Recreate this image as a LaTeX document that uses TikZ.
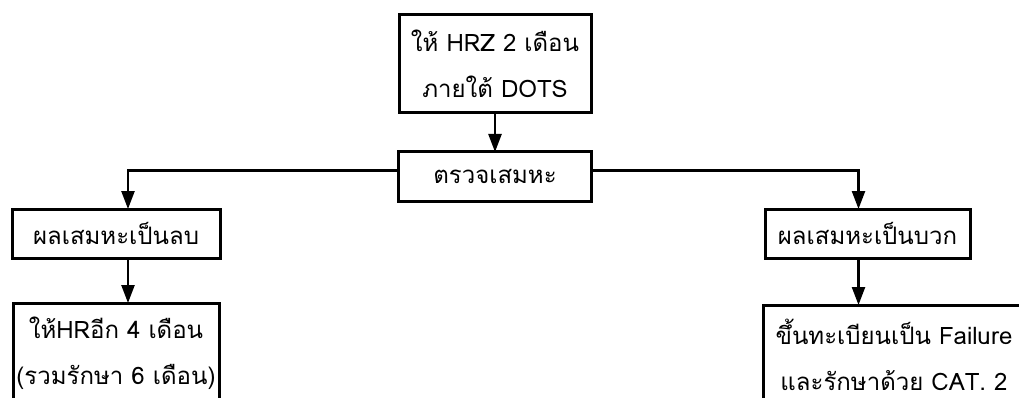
\documentclass[tikz,border=0pt]{standalone}
\usepackage{fontspec}
\setmainfont[Script=Thai]{Loma}
\usetikzlibrary{positioning, arrows.meta}
\tikzset{
  process/.style={rectangle, draw=black, line width=3pt, minimum height=49pt, inner sep=0pt, outer sep=0pt, align=center, font=\fontsize{24}{46}\selectfont},
  arrow/.style={line width=2.4pt, -{Triangle[length=18pt, width=13pt]}}
}
\begin{document}
\begin{tikzpicture}[x=1pt, y=-1pt]
        \useasboundingbox (0,0) rectangle (1019,398);
        \clip (0,0) rectangle (1019,398);
        \node (hrz) [process, minimum width=192pt, minimum height=98pt] at (495,64) {ให้ HRZ 2 เดือน\\ภายใต้ DOTS};
        \node (check) [process, minimum width=193pt, below=39pt of hrz] {ตรวจเสมหะ};
        
        % ฝั่งผลลบ (ซ้าย)
        \node (neg) [process, minimum width=208pt] at (116,233.5) {ผลเสมหะเป็นลบ};
        \node (hr4) [process, minimum width=206pt, minimum height=100pt, below=45pt of neg] {ให้HRอีก 4 เดือน\\(รวมรักษา 6 เดือน)};
        
        % ฝั่งผลบวก (ขวา)
        \node (pos) [process, minimum width=205pt] at (867.5,233.5) {ผลเสมหะเป็นบวก};
        \node (fail) [process, minimum width=262pt, minimum height=100pt] at (894,355) {ขึ้นทะเบียนเป็น Failure\\และรักษาด้วย CAT. 2};
        
        \draw [arrow] (hrz) -- (check);
        \draw [arrow] ([yshift=6pt]check.west) -| ([xshift=12pt]neg.north);
        \draw [arrow] ([yshift=6pt]check.east) -| ([xshift=-9pt]pos.north);
        \draw [arrow] ([xshift=12pt]neg.south) -- ([xshift=12pt]hr4.north);
        \draw [arrow] ([xshift=-9pt]pos.south) -- ([xshift=-9pt]pos.south |- fail.north);
        
    \end{tikzpicture}
\end{document}
